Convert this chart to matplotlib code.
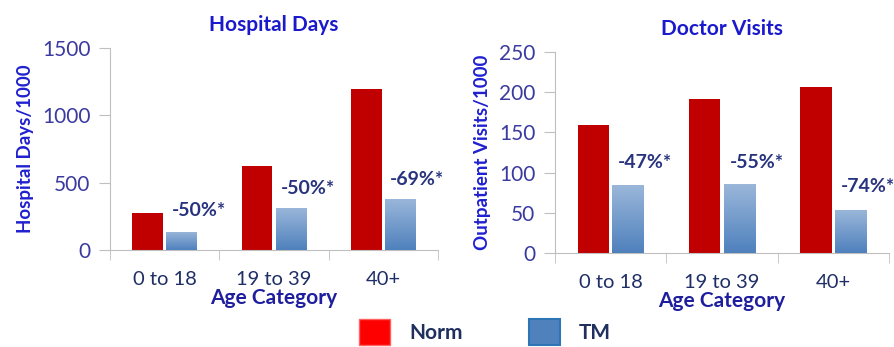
import numpy as np
import matplotlib
matplotlib.use("Agg")
import matplotlib.pyplot as plt
from matplotlib.patches import Patch
from matplotlib.colors import LinearSegmentedColormap

plt.rcParams['font.family'] = ['Lato', 'DejaVu Sans']

categories = ["0 to 18", "19 to 39", "40+"]

hosp_norm = [275, 624, 1195]
hosp_tm = [134, 312, 379]
hosp_labels = ["-50%*", "-50%*", "-69%*"]
hosp_label_y = [290, 460, 520]

doc_norm = [159, 191, 206]
doc_tm = [85, 86, 54]
doc_labels = ["-47%*", "-55%*", "-74%*"]
doc_label_y = [112, 113, 83]

COLOR_NORM = "#C00000"
COLOR_TM_TOP = "#9BB7DA"
COLOR_TM_BOT = "#4F81BD"
COLOR_TITLE = "#1A1ACC"
COLOR_YLABEL = "#2020D0"
COLOR_YTICK = "#3A3AA0"
COLOR_XTICK = "#1F2F66"
COLOR_XLABEL = "#1E1E9E"
COLOR_ANNOT = "#27337E"
COLOR_SPINE = "#BFBFBF"

grad_cmap = LinearSegmentedColormap.from_list("tm", [COLOR_TM_BOT, COLOR_TM_TOP])
grad = np.linspace(0, 1, 100).reshape(-1, 1)


def draw_panel(ax, norm, tm, labels, label_y, title, ylabel, ymax, ystep):
    x = np.arange(len(categories))
    w = 0.28
    ax.bar(x - w / 2 - 0.015, norm, w, color=COLOR_NORM, zorder=2)
    tm_bars = ax.bar(x + w / 2 + 0.015, tm, w, color=COLOR_TM_BOT, zorder=2)
    # gradient fill for the TM bars
    for b in tm_bars:
        x0, h, bw = b.get_x(), b.get_height(), b.get_width()
        im = ax.imshow(grad, cmap=grad_cmap, origin="lower", aspect="auto",
                       extent=(x0, x0 + bw, 0, h), zorder=3)
        im.set_clip_path(b)

    for i, (t, y) in enumerate(zip(labels, label_y)):
        ax.text(i + 0.31, y, t, ha="center", va="center", fontsize=14,
                fontweight="bold", color=COLOR_ANNOT, zorder=4)

    ax.set_xlim(-0.5, len(categories) - 0.5)
    ax.set_ylim(0, ymax)
    ax.set_yticks(np.arange(0, ymax + 1, ystep))
    ax.set_xticks(x)
    ax.set_xticklabels(categories)
    ax.set_xticks(np.arange(-0.5, len(categories)), minor=True)
    ax.tick_params(axis="x", which="major", length=0, pad=15,
                   labelsize=14.5, labelcolor=COLOR_XTICK)
    ax.tick_params(axis="x", which="minor", length=7, color=COLOR_SPINE)
    ax.tick_params(axis="y", length=8, color=COLOR_SPINE, pad=6,
                   labelsize=15, labelcolor=COLOR_YTICK)
    for s in ["top", "right"]:
        ax.spines[s].set_visible(False)
    for s in ["left", "bottom"]:
        ax.spines[s].set_color(COLOR_SPINE)
    ax.set_title(title, fontsize=15, fontweight="bold", color=COLOR_TITLE, pad=12)
    ax.set_ylabel(ylabel, fontsize=13.5, fontweight="bold", color=COLOR_YLABEL, labelpad=6)
    ax.set_xlabel("Age Category", fontsize=15, fontweight="bold", color=COLOR_XLABEL, labelpad=0)


fig = plt.figure(figsize=(8.95, 3.47), dpi=100)
ax1 = fig.add_axes([0.1229, 0.2795, 0.3665, 0.5821])
ax2 = fig.add_axes([0.6201, 0.2709, 0.3732, 0.5793])

draw_panel(ax1, hosp_norm, hosp_tm, hosp_labels, hosp_label_y,
           "Hospital Days", "Hospital Days/1000", 1500, 500)
draw_panel(ax2, doc_norm, doc_tm, doc_labels, doc_label_y,
           "Doctor Visits", "Outpatient Visits/1000", 250, 50)

handles = [Patch(facecolor="#FF0000", edgecolor="#FF6060", label="Norm"),
           Patch(facecolor="#4F81BD", edgecolor="#2E75B6", linewidth=1.5, label="TM")]
fig.legend(handles=handles, loc="center", bbox_to_anchor=(0.542, 0.043), ncol=2,
           frameon=False, handlelength=1.5, handleheight=1.6, columnspacing=3.2,
           handletextpad=0.9, prop={"size": 15, "weight": "bold"},
           labelcolor="#1F2F5E")

fig.savefig("out.png", dpi=100)
